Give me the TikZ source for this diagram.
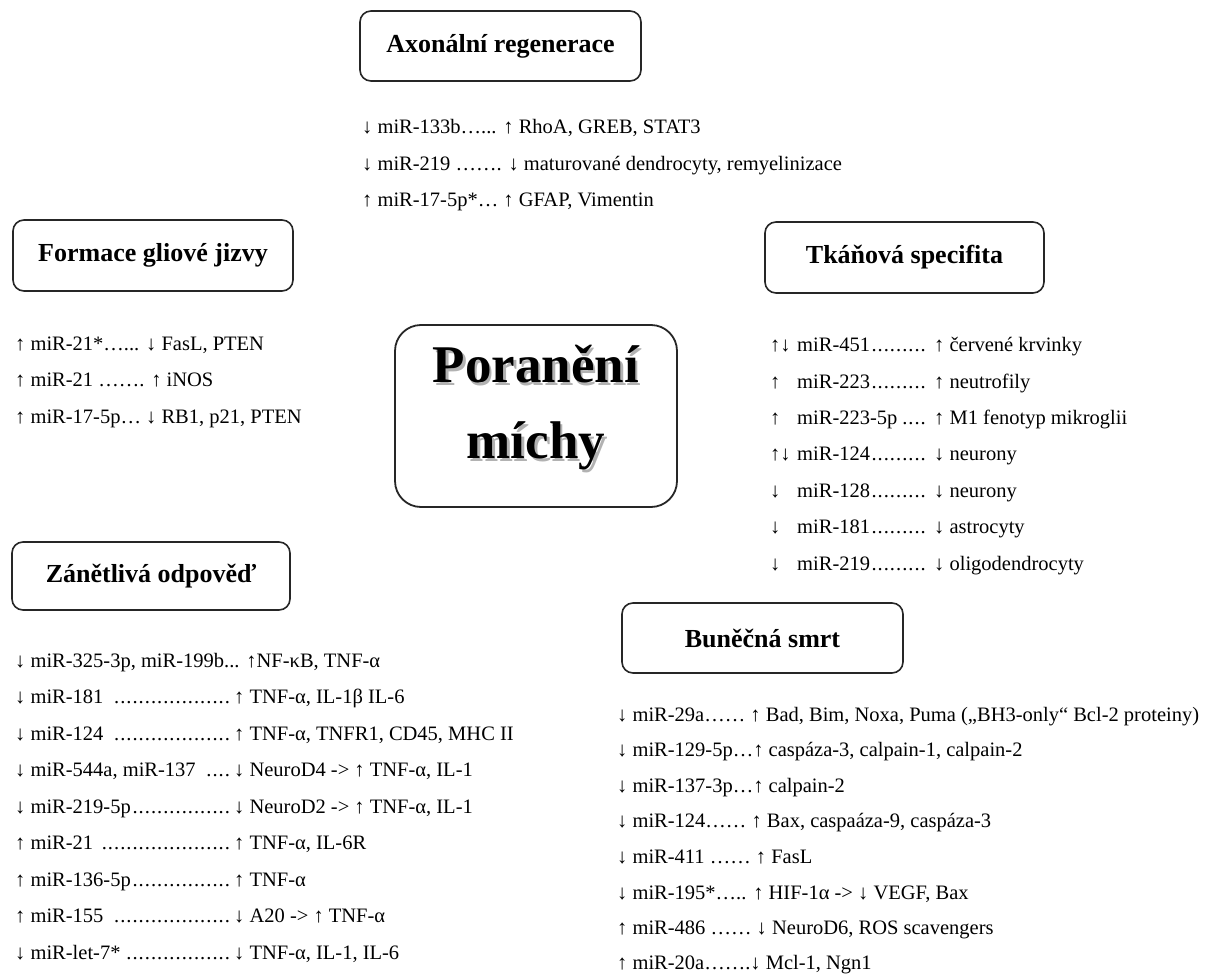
\documentclass[tikz,border=0pt]{standalone}
\usepackage{fontspec}
\setmainfont{Liberation Serif}
\newcommand\ldr[2]{\makebox[#1][l]{#2\leaders\hbox to 0.3em{\hss.\hss}\hfill\hspace{3pt}}}
\newcommand\shd[1]{\makebox[0pt][l]{\hspace{2.5pt}\raisebox{-2.5pt}{\textcolor{black!30}{#1}}}#1}
\tikzset{
  tbox/.style={draw=black!85, line width=1.6pt, rounded corners=11pt, fill=white,
    font=\fontsize{26}{30}\selectfont\bfseries, inner sep=0pt},
  ln/.style={anchor=base west, inner sep=0pt, font=\fontsize{20.5}{22}\selectfont},
}
\begin{document}
\begin{tikzpicture}[x=1pt,y=-1pt]
\useasboundingbox (0,0) rectangle (1208,974);
% title boxes
\node[tbox, minimum width=281pt, minimum height=70pt] (ax) at (500.5,46) {Axonální regenerace};
\node[tbox, minimum width=280pt, minimum height=71pt] (gl) at (153,255.5) {Formace gliové jizvy};
\node[tbox, minimum width=279pt, minimum height=71pt] (tk) at (904.5,257.5) {Tkáňová specifita};
\node[tbox, minimum width=278pt, minimum height=68pt] (zn) at (151,576) {Zánětlivá odpověď};
\node[tbox, minimum width=281pt, minimum height=70pt] (bs) at (762.5,638) {Buněčná smrt};
% centre
\node[draw=black!85, line width=1.8pt, rounded corners=26pt, minimum width=282pt, minimum height=182pt] (pm) at (536,416) {};
\node[align=center, font=\fontsize{53}{76}\selectfont\bfseries] (pmt) at (536,409) {\shd{Poranění}\\\shd{míchy}};
% Axonalni regenerace
\node[ln] (a1) at (362,133) {↓ miR-133b…... ↑ RhoA, GREB, STAT3};
\node[ln] (a2) at (362,170) {↓ miR-219 ……. ↓ maturované dendrocyty, remyelinizace};
\node[ln] (a3) at (362,206) {↑ miR-17-5p*… ↑ GFAP, Vimentin};
% Formace gliove jizvy
\node[ln] (g1) at (15,350) {↑ miR-21*…... ↓ FasL, PTEN};
\node[ln] (g2) at (15,386) {↑ miR-21 ……. ↑ iNOS};
\node[ln] (g3) at (15,423) {↑ miR-17-5p… ↓ RB1, p21, PTEN};
% Tkanova specifita
\node[ln] (t1) at (770,351) {\makebox[27pt][l]{↑↓}\ldr{137pt}{miR-451}↑ červené krvinky};
\node[ln] (t2) at (770,388) {\makebox[27pt][l]{↑}\ldr{137pt}{miR-223}↑ neutrofily};
\node[ln] (t3) at (770,424) {\makebox[27pt][l]{↑}\ldr{137pt}{miR-223-5p}↑ M1 fenotyp mikroglii};
\node[ln] (t4) at (770,460) {\makebox[27pt][l]{↑↓}\ldr{137pt}{miR-124}↓ neurony};
\node[ln] (t5) at (770,497) {\makebox[27pt][l]{↓}\ldr{137pt}{miR-128}↓ neurony};
\node[ln] (t6) at (770,533) {\makebox[27pt][l]{↓}\ldr{137pt}{miR-181}↓ astrocyty};
\node[ln] (t7) at (770,570) {\makebox[27pt][l]{↓}\ldr{137pt}{miR-219}↓ oligodendrocyty};
% Zanetliva odpoved
\node[ln] (z1) at (15,667) {↓ miR-325-3p, miR-199b... ↑NF-κB, TNF-α};
\node[ln] (z2) at (15,703) {\ldr{219pt}{↓ miR-181 }↑ TNF-α, IL-1β IL-6};
\node[ln] (z3) at (15,740) {\ldr{219pt}{↓ miR-124 }↑ TNF-α, TNFR1, CD45, MHC II};
\node[ln] (z4) at (15,776) {\ldr{219pt}{↓ miR-544a, miR-137 }↓ NeuroD4 -> ↑ TNF-α, IL-1};
\node[ln] (z5) at (15,813) {\ldr{219pt}{↓ miR-219-5p}↓ NeuroD2 -> ↑ TNF-α, IL-1};
\node[ln] (z6) at (15,849) {\ldr{219pt}{↑ miR-21 }↑ TNF-α, IL-6R};
\node[ln] (z7) at (15,886) {\ldr{219pt}{↑ miR-136-5p}↑ TNF-α};
\node[ln] (z8) at (15,922) {\ldr{219pt}{↑ miR-155 }↓ A20 -> ↑ TNF-α};
\node[ln] (z9) at (15,959) {\ldr{219pt}{↓ miR-let-7*}↓ TNF-α, IL-1, IL-6};
% Bunecna smrt
\node[ln] (b1) at (617,721) {↓ miR-29a…… ↑ Bad, Bim, Noxa, Puma („BH3-only“ Bcl-2 proteiny)};
\node[ln] (b2) at (617,756) {↓ miR-129-5p…↑ caspáza-3, calpain-1, calpain-2};
\node[ln] (b3) at (617,792) {↓ miR-137-3p…↑ calpain-2};
\node[ln] (b4) at (617,827) {↓ miR-124…… ↑ Bax, caspaáza-9, caspáza-3};
\node[ln] (b5) at (617,863) {↓ miR-411 …… ↑ FasL};
\node[ln] (b6) at (617,899) {↓ miR-195*….. ↑ HIF-1α -> ↓ VEGF, Bax};
\node[ln] (b7) at (617,934) {↑ miR-486 …… ↓ NeuroD6, ROS scavengers};
\node[ln] (b8) at (617,969) {↑ miR-20a…….↓ Mcl-1, Ngn1};
\end{tikzpicture}
\end{document}
